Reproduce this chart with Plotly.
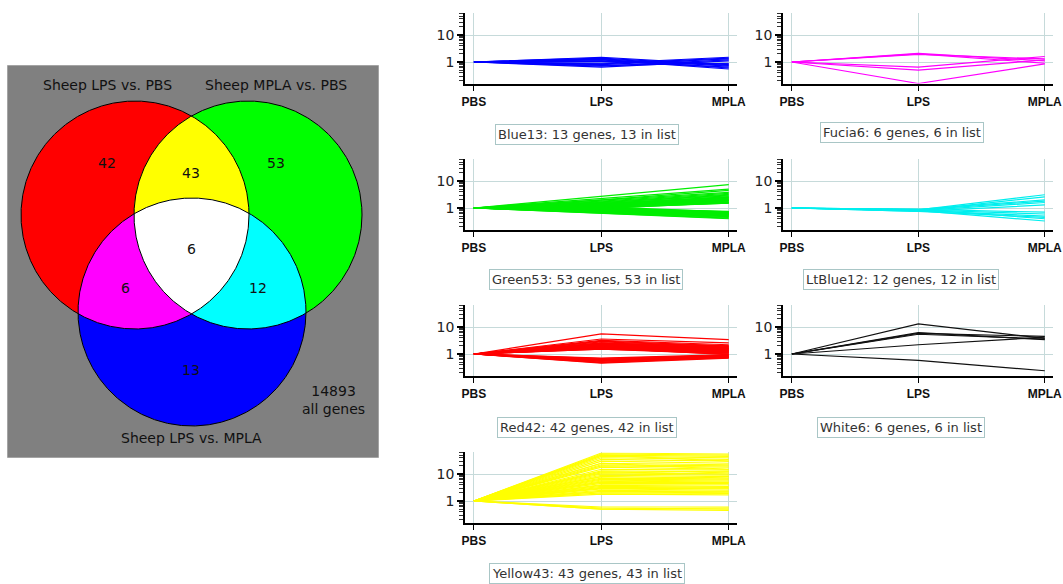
import numpy as np
import plotly.graph_objects as go

W, H = 1063, 584

# ---------------- data ----------------
venn_set_names = ["Sheep LPS vs. PBS", "Sheep MPLA vs. PBS", "Sheep LPS vs. MPLA"]
venn_region_sets = [(0,), (0, 1), (1,), (0, 1, 2), (0, 2), (1, 2), (2,)]
venn_region_counts = [42, 43, 53, 6, 6, 12, 13]
venn_region_colors = ["#ff0000", "#ffff00", "#00ff00", "#ffffff", "#ff00ff", "#00ffff", "#0000ff"]
total_genes = 14893

conditions = ["PBS", "LPS", "MPLA"]
pbs_level = 1.0

blue_lps = [1.5, 1.4, 1.3, 1.25, 1.2, 1.1, 1.05, 0.9, 0.85, 0.8, 0.75, 0.7, 0.65]
blue_mpla = [0.8, 0.75, 0.7, 0.6, 0.55, 0.65, 0.85, 1.5, 1.4, 1.3, 0.9, 1.2, 1.1]

fucia_lps = [2.1, 2.0, 1.9, 0.65, 0.5, 0.16]
fucia_mpla = [1.1, 0.9, 1.3, 1.6, 1.2, 0.85]

green_lps = [2.7, 2.2, 2.0, 1.9, 1.8, 1.7, 1.6, 1.6, 1.5, 1.5, 1.45, 1.4, 1.4, 1.35,
             1.3, 1.3, 1.25, 1.2, 1.2, 1.15, 1.1, 1.1, 1.05, 1.0, 1.3, 1.2, 1.1, 0.95,
             0.95, 0.9, 0.9, 0.88, 0.85, 0.85, 0.82, 0.8, 0.8, 0.78, 0.75, 0.75, 0.72,
             0.7, 0.7, 0.68, 0.65, 0.62, 1.0, 1.05, 0.9, 1.0, 0.85, 0.95, 1.1]
green_mpla = [7.3, 5.0, 4.5, 3.8, 3.5, 3.2, 3.0, 2.8, 2.6, 2.5, 2.4, 2.3, 2.2, 2.1,
              2.0, 1.9, 1.9, 1.8, 1.7, 1.7, 1.6, 1.55, 1.5, 1.5, 2.6, 2.3, 2.0, 1.6,
              0.75, 0.72, 0.7, 0.68, 0.66, 0.65, 0.63, 0.62, 0.6, 0.58, 0.57, 0.55, 0.53,
              0.5, 0.48, 0.45, 0.42, 0.4, 0.7, 0.65, 0.6, 0.55, 0.5, 0.62, 0.72]

ltblue_lps = [0.85, 0.8, 0.9, 0.85, 0.8, 0.75, 0.9, 0.85, 0.8, 0.75, 0.9, 0.8]
ltblue_mpla = [3.1, 2.6, 2.0, 1.8, 1.6, 1.3, 0.7, 0.6, 0.5, 0.45, 0.4, 0.33]

red_lps = [5.6, 3.6, 3.2, 3.0, 2.8, 2.6, 2.5, 2.4, 2.3, 2.2, 2.2, 2.1, 2.0, 2.0, 1.9,
           1.9, 1.8, 1.8, 1.7, 1.7, 1.6, 1.6, 1.5, 1.5, 2.5, 2.3, 2.1, 1.9, 1.8, 1.7,
           0.7, 0.68, 0.65, 0.62, 0.6, 0.58, 0.55, 0.53, 0.5, 0.48, 0.46, 0.6]
red_mpla = [3.4, 2.6, 2.2, 2.0, 1.9, 1.8, 1.7, 1.6, 1.6, 1.5, 1.4, 1.5, 1.4, 1.3, 1.3,
            1.2, 1.2, 1.1, 1.3, 1.1, 1.0, 1.2, 1.0, 1.1, 2.0, 1.8, 1.7, 1.5, 1.4, 0.95,
            0.95, 0.9, 0.85, 0.8, 0.78, 0.75, 0.72, 0.9, 0.8, 0.75, 0.7, 0.9]

white_lps = [13.0, 6.2, 5.8, 5.4, 2.2, 0.58]
white_mpla = [3.8, 3.4, 4.5, 3.6, 4.2, 0.24]

yellow_lps = [60, 55, 50, 45, 40, 35, 30, 25, 22, 20, 18, 15, 13, 12, 11, 10, 9, 8, 7,
              6.5, 6, 5.5, 5, 4.5, 4, 3.8, 3.5, 3.2, 3, 2.8, 2.5, 2.3, 2.2, 2, 1.8,
              50, 25, 8, 5, 0.55, 0.5, 0.6, 0.5]
yellow_mpla = [55, 50, 45, 40, 35, 30, 25, 22, 20, 18, 15, 14, 12, 10, 10, 9, 8, 7, 6.5,
               6, 5.5, 5, 4.8, 4.5, 4, 3.5, 3.2, 3, 2.8, 2.5, 2.3, 2.2, 2, 1.9, 1.7,
               30, 15, 12, 8, 0.5, 0.55, 0.6, 0.45]

group_names = ["Blue13", "Fucia6", "Green53", "LtBlue12", "Red42", "White6", "Yellow43"]
group_counts = [13, 6, 53, 12, 42, 6, 43]
group_lps = [blue_lps, fucia_lps, green_lps, ltblue_lps, red_lps, white_lps, yellow_lps]
group_mpla = [blue_mpla, fucia_mpla, green_mpla, ltblue_mpla, red_mpla, white_mpla, yellow_mpla]
group_colors = ["#0000ff", "#ff00ff", "#00ee00", "#00eeee", "#ff0000", "#111111", "#ffff00"]

y_major_ticks = [1, 10]
y_minor_ticks = [0.2, 0.3, 0.4, 0.5, 0.6, 0.7, 0.8, 0.9, 2, 3, 4, 5, 6, 7, 8, 9, 20, 30, 40, 50, 60]

# ---------------- layout geometry (pixels) ----------------
col_x = [(465, 737), (783, 1053)]
row_y = [(13.4, 83.6), (159.4, 229.6), (305.4, 375.6), (452.4, 522.6)]
group_pos = [(0, 0), (1, 0), (0, 1), (1, 1), (0, 2), (1, 2), (0, 3)]
caption_pos = [(587, 134), (902, 133), (586, 280), (901, 280), (587, 427), (901, 427), (587, 573)]

def px(x):
    return x / W

def py(y):
    return 1 - y / H

fig = go.Figure()
layout = dict(
    template="none",
    width=W, height=H, margin=dict(l=0, r=0, t=0, b=0, pad=0, autoexpand=False),
    paper_bgcolor="white", plot_bgcolor="white", showlegend=False,
)
annotations = []
shapes = []

# ---------------- Venn diagram ----------------
vbox = (7, 379, 65, 458)
centers = [(135, 215), (248, 215), (192, 312)]
RAD = 114
t = np.linspace(0, 2 * np.pi, 1441)


def region_polygon(idx):
    pts = []
    for i in idx:
        cx, cy = centers[i]
        x = cx + RAD * np.cos(t)
        y = cy + RAD * np.sin(t)
        mask = np.ones_like(x, dtype=bool)
        for j in idx:
            if j != i:
                ox, oy = centers[j]
                mask &= (x - ox) ** 2 + (y - oy) ** 2 <= RAD ** 2 + 1e-6
        pts.append(np.c_[x[mask], y[mask]])
    P = np.vstack(pts)
    c = P.mean(0)
    ang = np.arctan2(P[:, 1] - c[1], P[:, 0] - c[0])
    P = P[np.argsort(ang)]
    P = np.vstack([P, P[:1]])
    return P

order = sorted(range(len(venn_region_sets)), key=lambda k: len(venn_region_sets[k]))
for k in order:
    P = region_polygon(venn_region_sets[k])
    fig.add_trace(go.Scatter(x=P[:, 0], y=P[:, 1], mode="lines", fill="toself",
                             fillcolor=venn_region_colors[k], line=dict(width=0, color=venn_region_colors[k]),
                             xaxis="x8", yaxis="y8", hoverinfo="skip"))
for i in range(3):
    cx, cy = centers[i]
    fig.add_trace(go.Scatter(x=cx + RAD * np.cos(t), y=cy + RAD * np.sin(t), mode="lines",
                             line=dict(width=1, color="#000000"), xaxis="x8", yaxis="y8",
                             hoverinfo="skip"))

shapes.append(dict(type="rect", xref="x8", yref="y8", x0=vbox[0], x1=vbox[1], y0=vbox[2], y1=vbox[3],
                   fillcolor="#808080", line=dict(color="#c8c8c8", width=1), layer="below"))
layout["xaxis8"] = dict(domain=[px(vbox[0]), px(vbox[1])], range=[vbox[0], vbox[1]], visible=False,
                        anchor="y8", fixedrange=True, automargin=False)
layout["yaxis8"] = dict(domain=[py(vbox[3]), py(vbox[2])], range=[vbox[3], vbox[2]], visible=False,
                        anchor="x8", fixedrange=True, automargin=False)

vfont = dict(family="DejaVu Sans, Lucida Grande, sans-serif", size=14, color="#111111")
set_label_pos = [(107, 85), (276, 85), (191, 438)]
for name, (x, y) in zip(venn_set_names, set_label_pos):
    annotations.append(dict(x=x, y=y, xref="x8", yref="y8", text=name, showarrow=False, font=vfont,
                            xanchor="center", yanchor="middle"))
count_pos = [(107, 163), (191, 173), (276, 163), (191, 249), (125, 288), (258, 288), (191, 370)]
for cnt, (x, y) in zip(venn_region_counts, count_pos):
    annotations.append(dict(x=x, y=y, xref="x8", yref="y8", text=str(cnt), showarrow=False, font=vfont,
                            xanchor="center", yanchor="middle"))
annotations.append(dict(x=333, y=400, xref="x8", yref="y8", text=f"{total_genes}<br>all genes",
                        showarrow=False, font=vfont, align="center", xanchor="center", yanchor="middle"))

# ---------------- small line charts ----------------
grid_col = "#c6dada"
for gi, name in enumerate(group_names):
    n = gi + 1
    xs, ys = [], []
    for a, b in zip(group_lps[gi], group_mpla[gi]):
        xs += [0, 1, 2, None]
        ys += [pbs_level, a, b, None]
    fig.add_trace(go.Scatter(x=xs, y=ys, mode="lines", line=dict(color=group_colors[gi], width=1.2),
                             xaxis=f"x{n}", yaxis=f"y{n}", connectgaps=False, hoverinfo="skip"))
    c, r = group_pos[gi]
    x0, x1 = col_x[c]
    y0, y1 = row_y[r]
    layout[f"xaxis{n}"] = dict(
        domain=[px(x0), px(x1)], anchor=f"y{n}", range=[-0.07, 2.065],
        tickmode="array", tickvals=[0, 1, 2], ticktext=conditions,
        showline=True, linecolor="#000000", linewidth=1.5,
        ticks="outside", ticklen=6, tickcolor="#000000", tickwidth=1.2,
        showgrid=True, gridcolor=grid_col, gridwidth=1, zeroline=False,
        tickfont=dict(family="Liberation Sans, Arial, sans-serif",
                      size=12, color="#111111", weight="bold"),
        fixedrange=True, automargin=False,
    )
    layout[f"yaxis{n}"] = dict(
        domain=[py(y1), py(y0)], anchor=f"x{n}", type="log", range=[-0.8, 1.8],
        tickmode="array", tickvals=y_major_ticks, ticktext=[str(v) for v in y_major_ticks],
        showline=True, linecolor="#000000", linewidth=1.5,
        ticks="outside", ticklen=6, tickcolor="#000000", tickwidth=1.5,
        minor=dict(ticks="outside", ticklen=4, tickcolor="#333333", tickwidth=1,
                   tickmode="array", tickvals=y_minor_ticks, showgrid=False),
        showgrid=True, gridcolor=grid_col, gridwidth=1, zeroline=False,
        tickfont=dict(family="DejaVu Sans, sans-serif", size=14, color="#222222"),
        fixedrange=True, automargin=False,
    )
    cx, cy = caption_pos[gi]
    annotations.append(dict(
        x=px(cx), y=py(cy), xref="paper", yref="paper", showarrow=False,
        xanchor="center", yanchor="middle",
        text=f"{name}: {group_counts[gi]} genes, {group_counts[gi]} in list",
        font=dict(family="DejaVu Sans, Lucida Grande, sans-serif", size=13, color="#333333"),
        bordercolor="#a9c6c6", borderwidth=1, borderpad=2, bgcolor="white",
    ))

layout["annotations"] = annotations
layout["shapes"] = shapes
fig.update_layout(**layout)
fig.write_html("out.html", config={"displayModeBar": False},
               post_script="document.body.style.margin='0px';document.body.style.padding='0px';")
